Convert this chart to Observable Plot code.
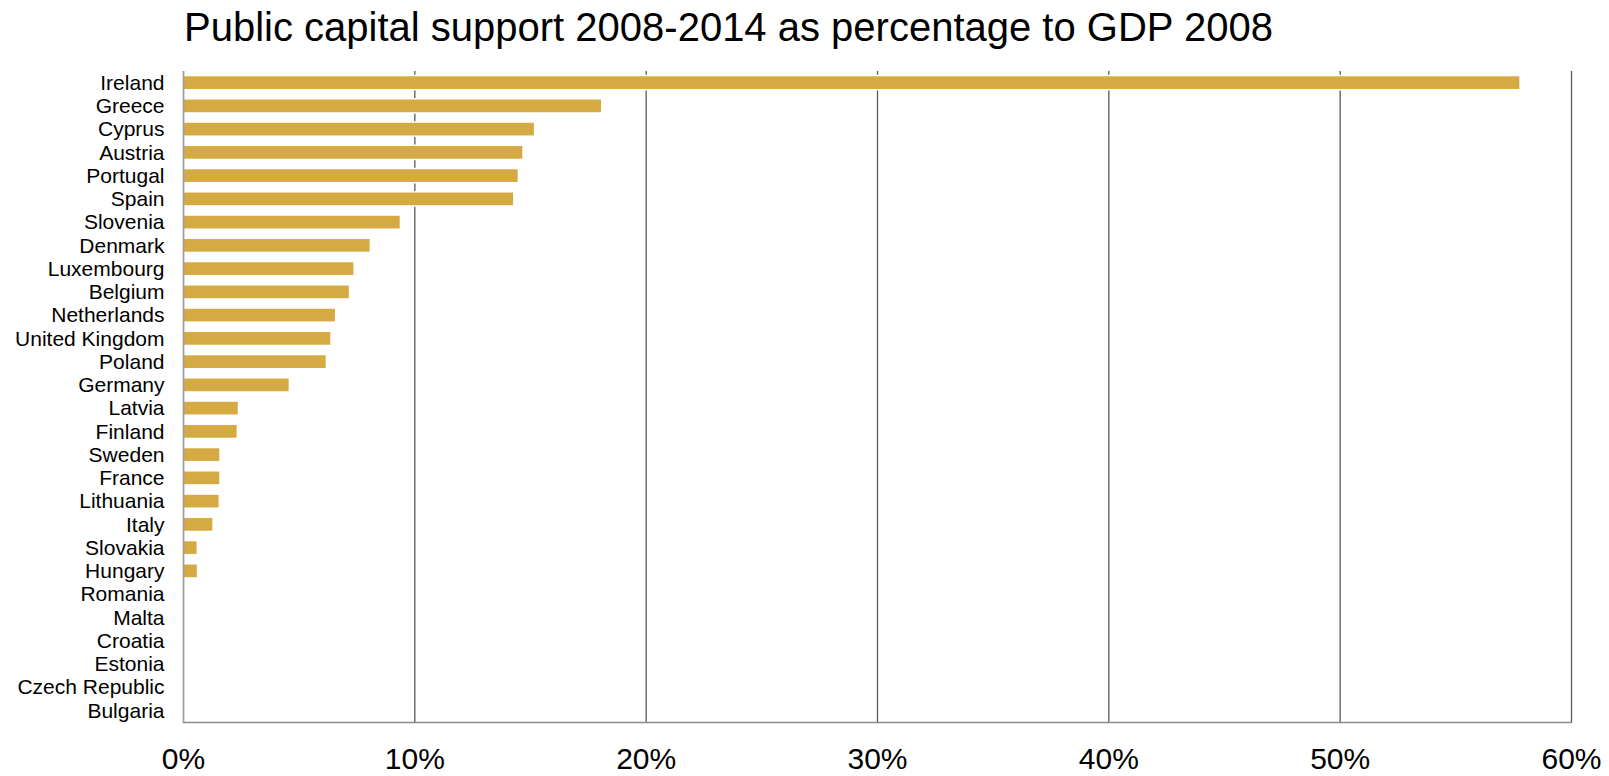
<!DOCTYPE html>
<html>
<head>
<meta charset="utf-8">
<script src="https://cdn.jsdelivr.net/npm/d3@7"></script>
<script src="https://cdn.jsdelivr.net/npm/@observablehq/plot@0.6"></script>
<style>
  html, body { margin: 0; padding: 0; background: #fff; }
  body { width: 1609px; height: 776px; overflow: hidden; font-family: "Liberation Sans", Arial, sans-serif; }
  #title { height: 60px; box-sizing: border-box; padding-left: 184px; padding-top: 7px; font-size: 40px; line-height: 40px; color: #000; white-space: nowrap; }
  #chart svg { display: block; }
</style>
</head>
<body>
<div id="title">Public capital support 2008-2014 as percentage to GDP 2008</div>
<div id="chart"></div>
<script>
const countries = ["Ireland", "Greece", "Cyprus", "Austria", "Portugal", "Spain", "Slovenia", "Denmark",
  "Luxembourg", "Belgium", "Netherlands", "United Kingdom", "Poland", "Germany", "Latvia", "Finland",
  "Sweden", "France", "Lithuania", "Italy", "Slovakia", "Hungary", "Romania", "Malta", "Croatia",
  "Estonia", "Czech Republic", "Bulgaria"];
const values = [57.8, 18.1, 15.2, 14.7, 14.5, 14.3, 9.4, 8.1,
  7.4, 7.2, 6.6, 6.4, 6.2, 4.6, 2.4, 2.35,
  1.6, 1.6, 1.57, 1.3, 0.62, 0.63, 0, 0, 0,
  0, 0, 0];
const xTicks = [0, 10, 20, 30, 40, 50, 60];
const gridTicks = [10, 20, 30, 40, 50, 60];

const data = countries.map((c, i) => ({country: c, value: values[i]}));

const chart = Plot.plot({
  width: 1609,
  height: 716,
  marginTop: 11,
  marginBottom: 54,
  marginLeft: 183,
  marginRight: 38,
  style: {fontFamily: "'Liberation Sans', Arial, sans-serif", color: "#000", background: "#fff"},
  x: {domain: [0, 60], ticks: xTicks},
  y: {domain: countries, paddingInner: 0.39, paddingOuter: 0.195, round: false},
  marks: [
    Plot.ruleX(gridTicks, {stroke: "#5a5a5a", strokeWidth: 1.3, strokeOpacity: 1}),
    Plot.barX(data, {y: "country", x: "value", fill: "#D6AA42", stroke: "#fff", strokeWidth: 1.5}),
    Plot.ruleX([0], {stroke: "#a0a0a0", strokeWidth: 1.8}),
    Plot.frame({anchor: "bottom", stroke: "#8a8a8a", strokeWidth: 1.3}),
    Plot.axisX(xTicks, {tickSize: 0, tickPadding: 25, fontSize: 30, tickFormat: d => d + "%", label: null}),
    Plot.axisY({tickSize: 0, tickPadding: 19, fontSize: 21, label: null})
  ]
});
document.getElementById("chart").appendChild(chart);
</script>
</body>
</html>
